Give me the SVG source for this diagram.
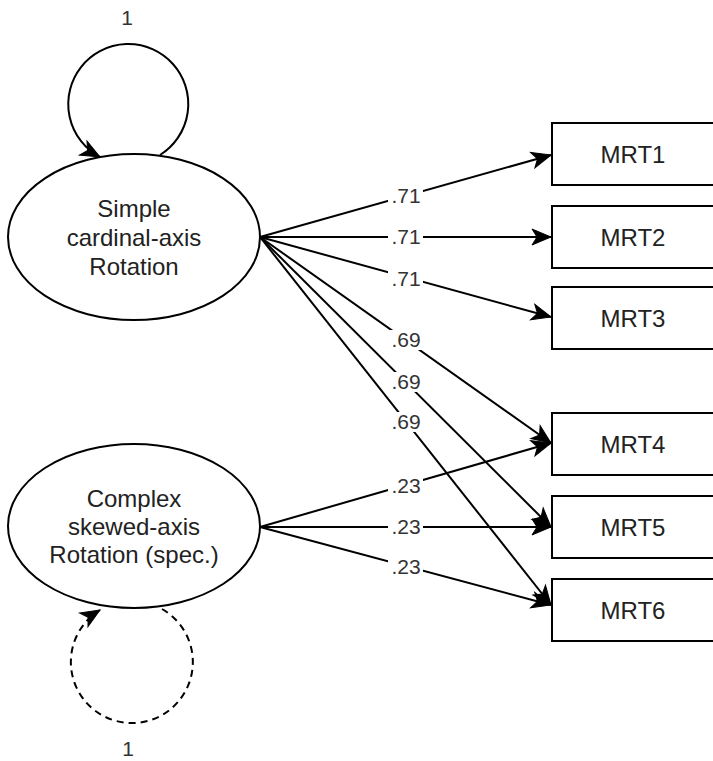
<svg xmlns="http://www.w3.org/2000/svg" width="713" height="761" viewBox="0 0 713 761">
<style>
.shape{fill:#fff;stroke:#000;stroke-width:2}
.node{font-family:"Liberation Sans",Arial,sans-serif;font-size:24px;fill:#222;text-anchor:middle}
.edge{fill:none;stroke:#000;stroke-width:2}
.lbl{font-family:"Liberation Sans",Arial,sans-serif;font-size:21px;fill:#333;text-anchor:middle}
.lblbg{fill:#fff}
</style>
<defs>
<marker id="arr" markerUnits="userSpaceOnUse" markerWidth="24" markerHeight="20" viewBox="-20 -10 22 20" refX="0" refY="0" orient="auto">
<path d="M0,0 L-19,-8 L-14,0 L-19,8 Z" fill="#000" stroke="#000" stroke-width="1"/>
</marker>
</defs>
<g id="connectors">
<path class="edge" d="M260,237 L551,155" marker-end="url(#arr)"/>
<path class="edge" d="M260,237 L551,237" marker-end="url(#arr)"/>
<path class="edge" d="M260,237 L551,317" marker-end="url(#arr)"/>
<path class="edge" d="M260,237 L551,443" marker-end="url(#arr)"/>
<path class="edge" d="M260,237 L551,527" marker-end="url(#arr)"/>
<path class="edge" d="M260,237 L551,605" marker-end="url(#arr)"/>
<path class="edge" d="M260,527 L551,443" marker-end="url(#arr)"/>
<path class="edge" d="M260,527 L551,527" marker-end="url(#arr)"/>
<path class="edge" d="M260,527 L551,605" marker-end="url(#arr)"/>
<path class="edge" d="M160,155 A60,60 0 1 0 100,157" marker-end="url(#arr)"/>
<path class="edge" d="M162,609 A61,61 0 1 1 100,610" stroke-dasharray="7 5" marker-end="url(#arr)"/>
<g id="labels">
<rect class="lblbg" x="388" y="186" width="35" height="20"/><text class="lbl" x="406" y="203">.71</text>
<rect class="lblbg" x="388" y="227" width="35" height="20"/><text class="lbl" x="406" y="244">.71</text>
<rect class="lblbg" x="388" y="269" width="35" height="20"/><text class="lbl" x="406" y="286">.71</text>
<rect class="lblbg" x="388" y="330" width="35" height="20"/><text class="lbl" x="406" y="347">.69</text>
<rect class="lblbg" x="388" y="372" width="35" height="20"/><text class="lbl" x="406" y="389">.69</text>
<rect class="lblbg" x="388" y="412" width="35" height="20"/><text class="lbl" x="406" y="429">.69</text>
<rect class="lblbg" x="388" y="476" width="35" height="20"/><text class="lbl" x="406" y="493">.23</text>
<rect class="lblbg" x="388" y="517" width="35" height="20"/><text class="lbl" x="406" y="534">.23</text>
<rect class="lblbg" x="388" y="557" width="35" height="20"/><text class="lbl" x="406" y="574">.23</text>
<text class="lbl" x="127" y="25">1</text>
<text class="lbl" x="128" y="756">1</text>
</g>
</g>
<g id="simple">
<ellipse class="shape" cx="134" cy="237" rx="126" ry="83"/>
<text class="node" x="134" y="217">Simple</text>
<text class="node" x="134" y="246">cardinal-axis</text>
<text class="node" x="134" y="275">Rotation</text>
</g>
<g id="complex">
<ellipse class="shape" cx="134" cy="526" rx="126" ry="82"/>
<text class="node" x="134" y="507">Complex</text>
<text class="node" x="134" y="535">skewed-axis</text>
<text class="node" x="134" y="563">Rotation (spec.)</text>
</g>
<g id="mrt1"><rect class="shape" x="552" y="123" width="170" height="62"/><text class="node" x="633" y="163">MRT1</text></g>
<g id="mrt2"><rect class="shape" x="552" y="206" width="170" height="62"/><text class="node" x="633" y="246">MRT2</text></g>
<g id="mrt3"><rect class="shape" x="552" y="287" width="170" height="62"/><text class="node" x="633" y="327">MRT3</text></g>
<g id="mrt4"><rect class="shape" x="552" y="413" width="170" height="62"/><text class="node" x="633" y="453">MRT4</text></g>
<g id="mrt5"><rect class="shape" x="552" y="496" width="170" height="62"/><text class="node" x="633" y="536">MRT5</text></g>
<g id="mrt6"><rect class="shape" x="552" y="579" width="170" height="62"/><text class="node" x="633" y="619">MRT6</text></g>
</svg>
